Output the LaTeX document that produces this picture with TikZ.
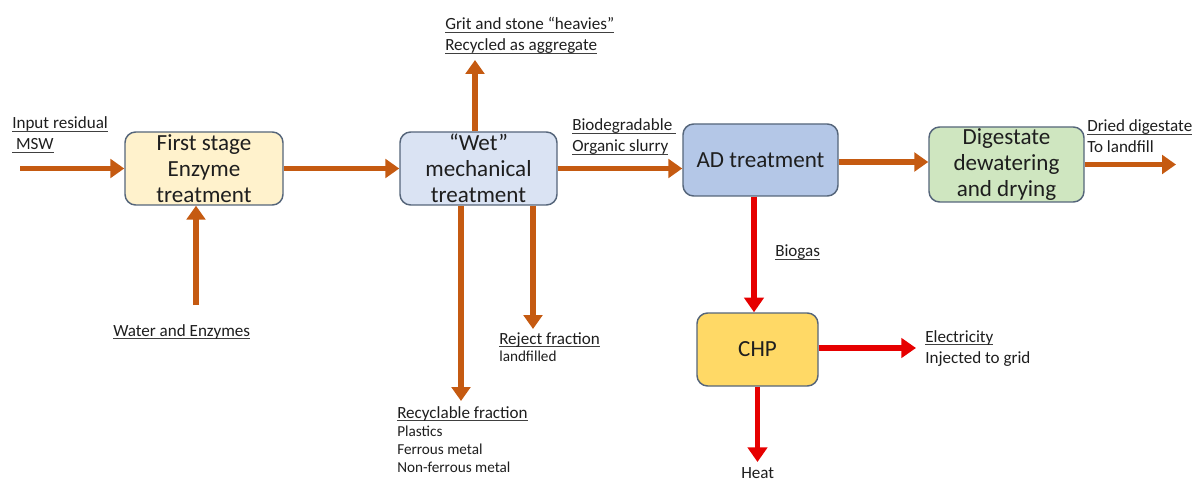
\documentclass[tikz,border=0pt]{standalone}
\usepackage{fontspec}
\setmainfont{Carlito}
\usetikzlibrary{arrows.meta}
\definecolor{flowor}{HTML}{C55A11}
\definecolor{flowred}{HTML}{E60000}
\definecolor{boxline}{HTML}{55657A}
\definecolor{txt}{HTML}{1E1E1E}
\definecolor{fillyel}{HTML}{FFF2CC}
\definecolor{fillblu}{HTML}{DAE3F3}
\definecolor{fillad}{HTML}{B4C7E7}
\definecolor{fillgrn}{HTML}{CFE6C0}
\definecolor{fillchp}{HTML}{FFD966}
% underline that sits just below the baseline
\newcommand\ulbar[1]{\setbox0\hbox{#1}\rlap{\color{txt!85}\rule[-2.6pt]{\wd0}{0.8pt}}\box0}
\begin{document}
\begin{tikzpicture}[x=0.75pt,y=-0.75pt,
  procbox/.style={draw=boxline,line width=1.1pt,rounded corners=8pt,inner sep=0pt},
  boxtext/.style={align=center,text=txt,font=\fontsize{17.3}{19.5}\selectfont},
  lbl/.style={anchor=base west,inner sep=0pt,align=left,text=txt,font=\fontsize{12.8}{15.75}\selectfont},
  small/.style={anchor=base west,inner sep=0pt,align=left,text=txt,font=\fontsize{11.4}{13.3}\selectfont},
  orflow/.style={draw=flowor,line width=3.8pt,-{Triangle[width=14pt,length=10.5pt]}},
  redflow/.style={draw=flowred,line width=3.8pt,-{Triangle[width=14.5pt,length=11pt]}}]
\useasboundingbox (0,0) rectangle (1196,481);

% process boxes
\node[procbox,fill=fillyel,minimum width=158*0.75pt,minimum height=73*0.75pt,
  label={[boxtext]center:First stage\\Enzyme\\treatment}] (first) at (204,168.5) {};
\node[procbox,fill=fillblu,minimum width=157*0.75pt,minimum height=73*0.75pt,
  label={[boxtext]center:“Wet”\\mechanical\\treatment}] (wet) at (478.5,168.5) {};
\node[procbox,fill=fillad,minimum width=155*0.75pt,minimum height=72*0.75pt,
  label={[boxtext]center:AD treatment}] (ad) at (760.5,160) {};
\node[procbox,fill=fillgrn,minimum width=155*0.75pt,minimum height=75*0.75pt,
  label={[boxtext]center:Digestate\\dewatering\\and drying}] (dig) at (1006.5,164.5) {};
\node[procbox,fill=fillchp,minimum width=121*0.75pt,minimum height=73*0.75pt,
  label={[boxtext]center:CHP}] (chp) at (757.5,349.5) {};

% labels (base anchor of a multi-line label is its last baseline)
\node[lbl] (inlbl) at (12,150) {\ulbar{Input residual}\\\ulbar{\ MSW}};
\node[lbl] (gritlbl) at (445,51) {\ulbar{Grit and stone “heavies”}\\\ulbar{Recycled as aggregate}};
\node[lbl] (biolbl) at (572,152) {\ulbar{Biodegradable\ }\\\ulbar{Organic slurry}};
\node[lbl] (driedlbl) at (1087,153) {\ulbar{Dried digestate}\\To landfill};
\node[lbl] (waterlbl) at (113,336) {\ulbar{Water and Enzymes}};
\node[lbl] (rejlbl) at (499,344) {\ulbar{Reject fraction}};
\node[small] (rejsub) at (499,361) {landfilled};
\node[lbl] (reclbl) at (397,418) {\ulbar{Recyclable fraction}};
\node[small] (recsub) at (397,472) {Plastics\\Ferrous metal\\Non-ferrous metal};
\node[lbl] (biogaslbl) at (775,257) {\ulbar{Biogas}};
\node[lbl] (eleclbl) at (925,363) {\ulbar{Electricity}\\Injected to grid};
\node[lbl] (heatlbl) at (741,478) {Heat};

% free ends of the flows
\coordinate (inStart) at (20,168.5);
\coordinate (waterStart) at (196,305);
\coordinate (gritEnd) at (475,60);
\coordinate (rejEnd) at (533,329);
\coordinate (recEnd) at (461,401);
\coordinate (outEnd) at (1176,164.5);
\coordinate (elecEnd) at (916,348);
\coordinate (heatEnd) at (757.5,462);

% material flows
\draw[orflow] (inStart) -- (first.west);
\draw[orflow] (first.east) -- (wet.west);
\draw[orflow] (waterStart) -- (waterStart |- first.south);
\draw[orflow] (gritEnd |- wet.north) -- (gritEnd);
\draw[orflow] (wet.east) -- (wet.east -| ad.west);
\draw[orflow] (recEnd |- wet.south) -- (recEnd);
\draw[orflow] (rejEnd |- wet.south) -- (rejEnd);
\draw[orflow] (ad.east |- 0,162) -- (dig.west |- 0,162);
\draw[orflow] (dig.east) -- (outEnd);

% energy flows
\draw[redflow] (ad.south -| 754,0) -- (chp.north -| 754,0);
\draw[redflow] (chp.east |- elecEnd) -- (elecEnd);
\draw[redflow] (chp.south) -- (heatEnd);
\end{tikzpicture}
\end{document}
